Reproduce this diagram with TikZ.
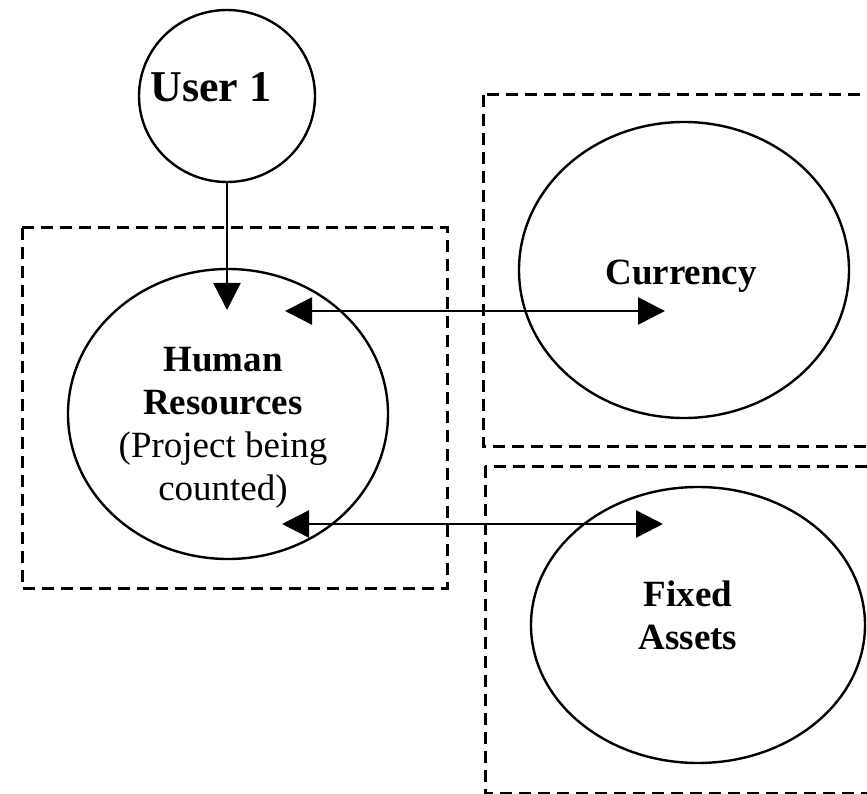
\documentclass[tikz,border=0pt]{standalone}
\usepackage{fontspec}
\setmainfont{Liberation Serif}
\usetikzlibrary{arrows.meta,shapes.geometric}

\begin{document}
\begin{tikzpicture}[x=1pt, y=-1pt, line width=2.4pt,
	>={Triangle[length=27pt,width=27pt]},
	unit/.style={draw, ellipse, inner sep=0pt},
	area/.style={draw, dash pattern=on 12pt off 7pt, line width=3pt},
	title/.style={font=\fontsize{37}{43}\selectfont, align=center, inner sep=0pt}]
	\useasboundingbox (0,0) rectangle (867,794);
	\clip (0,0) rectangle (867,794);

	\node[unit, minimum width=176pt, minimum height=172pt] (U) at (227,96) {};
	\node[unit, minimum width=320pt, minimum height=290pt] (HR) at (228,414) {};
	\node[unit, minimum width=330pt, minimum height=296pt] (C) at (684,270) {};
	\node[unit, minimum width=334pt, minimum height=276pt] (F) at (698,625) {};

	% dashed areas
	\draw[area] (22,228) rectangle (447,588);
	\draw[area] (483,95) rectangle (900,446);
	\draw[area] (485,466) rectangle (900,793);

	\node[title, font=\fontsize{44}{50}\selectfont\bfseries, anchor=base] (Ut) at (211,102) {User 1};
	\node[title, anchor=north] (HRt) at (223,346) {\textbf{Human}\\\textbf{Resources}\\(Project being\\counted)};
	\node[title, font=\fontsize{37}{43}\selectfont\bfseries, anchor=base] (Ct) at (681,284) {Currency};
	\node[title, font=\fontsize{37}{43}\selectfont\bfseries, anchor=north] (Ft) at (688,580) {Fixed\\Assets};

	\coordinate (U-in) at (227,310);
	\coordinate (HR-a) at (285,311);
	\coordinate (C-in) at (665,311);
	\coordinate (HR-b) at (282,524);
	\coordinate (F-in) at (663,524);

	\draw[->] (U.south) -- (U-in);
	\draw[<->] (HR-a) -- (C-in);
	\draw[<->] (HR-b) -- (F-in);
\end{tikzpicture}
\end{document}
